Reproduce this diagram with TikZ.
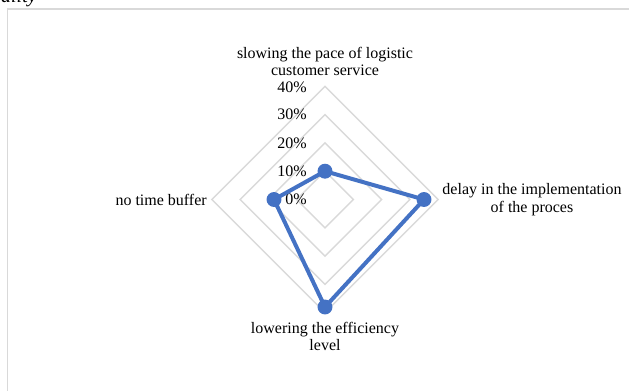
\documentclass[tikz,border=0pt]{standalone}
\usepackage{fontspec}
\setmainfont{Liberation Serif}

\definecolor{gridgray}{RGB}{217,217,217}
\definecolor{seriesblue}{RGB}{68,114,196}

\tikzset{
    gridline/.style={draw=gridgray, line width=1.1pt},
    seriesline/.style={draw=seriesblue, line width=3pt, line join=round},
    axislabel/.style={font=\fontsize{12}{13.2}\selectfont, align=center, inner sep=0pt},
    ticklabel/.style={font=\fontsize{12}{13.2}\selectfont, anchor=east, inner sep=0pt}
}

\begin{document}
\begin{tikzpicture}[x=0.75pt, y=-0.75pt]

    % Fix the page to the size of the reference
    \useasboundingbox (0,0) rectangle (629,390);

    % Cut-off caption text at the top edge
    \node[font=\fontsize{15}{16}\selectfont\itshape, anchor=base east, inner sep=0pt] (caption) at (37,2) {ality};

    % Draw the chart frame (runs past the right and bottom edges)
    \draw[gridline] (7.5,400) |- (640,9);

    % Define the center of the radar chart
    \coordinate (O) at (325,199.5);

    % Draw the grid diamonds for 10%, 20%, 30% and 40%
    \draw[gridline] (325,171.2) -- (353.3,199.5) -- (325,227.8) -- (296.7,199.5) -- cycle;
    \draw[gridline] (325,142.9) -- (381.6,199.5) -- (325,256.1) -- (268.4,199.5) -- cycle;
    \draw[gridline] (325,114.6) -- (409.9,199.5) -- (325,284.4) -- (240.1,199.5) -- cycle;
    \draw[gridline] (325,86.3) -- (438.2,199.5) -- (325,312.7) -- (211.8,199.5) -- cycle;

    % Place the percentage labels along the top axis
    \node[ticklabel] (t40) at (307,87) {40\%};
    \node[ticklabel] (t30) at (307,114.6) {30\%};
    \node[ticklabel] (t20) at (307,142.9) {20\%};
    \node[ticklabel] (t10) at (307,171.2) {10\%};
    \node[ticklabel] (t0) at (307,199.5) {0\%};

    % Define the data points on the four axes
    % T is the top axis (10%)
    \coordinate (T) at (325,171.2);
    % R is the right axis (35%)
    \coordinate (R) at (424,199.5);
    % B is the bottom axis (38%)
    \coordinate (B) at (325,307);
    % L is the left axis (18%)
    \coordinate (L) at (274,199.5);

    % Draw the data polygon
    \draw[seriesline] (T) -- (R) -- (B) -- (L) -- cycle;

    % Draw the markers at each data point
    \fill[seriesblue] (T) circle (5.6pt);
    \fill[seriesblue] (R) circle (5.6pt);
    \fill[seriesblue] (B) circle (5.6pt);
    \fill[seriesblue] (L) circle (5.6pt);

    % Place the category labels round the chart
    \node[axislabel] (catT) at (325,61.5) {slowing the pace of logistic\\customer service};
    \node[axislabel] (catR) at (532,199.5) {delay in the implementation\\of the proces};
    \node[axislabel] (catB) at (325,336.5) {lowering the efficiency\\level};
    \node[axislabel, anchor=east] (catL) at (207,200) {no time buffer};

\end{tikzpicture}
\end{document}
